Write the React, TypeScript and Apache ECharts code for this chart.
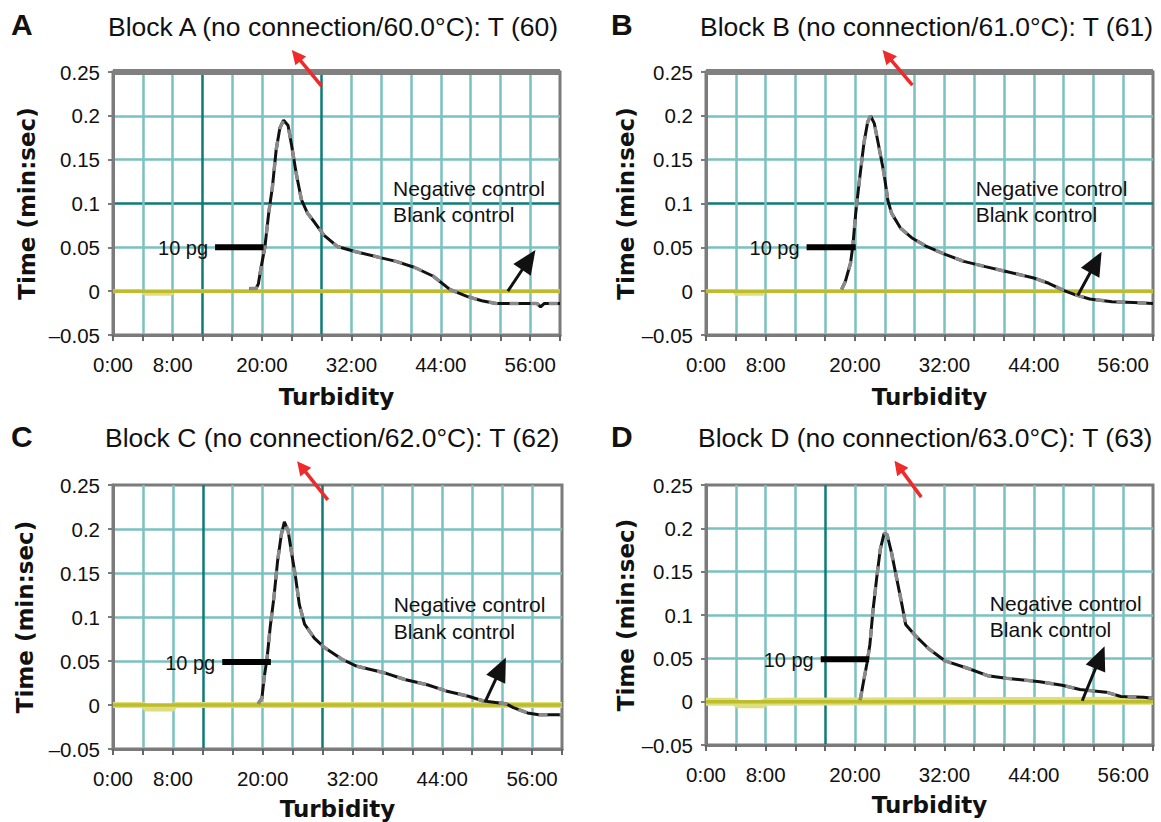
import React, { useEffect, useRef } from "react";
import * as echarts from "echarts";

// ---------- data ----------
const PANEL_LETTERS = ["A", "B", "C", "D"];
const TITLES = [
  "Block A (no connection/60.0\u00b0C): T (60)",
  "Block B (no connection/61.0\u00b0C): T (61)",
  "Block C (no connection/62.0\u00b0C): T (62)",
  "Block D (no connection/63.0\u00b0C): T (63)",
];
const X_AXIS_NAME = "Turbidity";
const Y_AXIS_NAME = "Time (min:sec)";
const X_TICK_VALUES = [0, 8, 20, 32, 44, 56];
const X_TICK_LABELS = ["0:00", "8:00", "20:00", "32:00", "44:00", "56:00"];
const Y_TICK_VALUES = [-0.05, 0, 0.05, 0.1, 0.15, 0.2, 0.25];
const Y_TICK_LABELS = ["\u20130.05", "0", "0.05", "0.1", "0.15", "0.2", "0.25"];

// 10 pg sample curves: [minutes, value]
const CURVE_A: [number, number][] = [
  [18.3, 0.003], [19.2, 0.003], [19.5, 0.008], [19.9, 0.028], [20.4, 0.051], [20.9, 0.089],
  [21.4, 0.119], [21.9, 0.161], [22.4, 0.186], [22.9, 0.195], [23.5, 0.189], [24.0, 0.165],
  [24.6, 0.134], [25.3, 0.104], [26.1, 0.089], [27.1, 0.078], [28.3, 0.064], [30.1, 0.051],
  [32.6, 0.045], [36.0, 0.038], [38.0, 0.034], [40.5, 0.027], [43.0, 0.017], [45.2, 0.002],
  [47.5, -0.006], [49.5, -0.011], [51.4, -0.014], [56.9, -0.014], [57.4, -0.018],
  [57.9, -0.014], [60, -0.014],
];
const CURVE_B: [number, number][] = [
  [18.2, 0.002], [18.7, 0.011], [19.4, 0.032], [19.7, 0.051], [20.1, 0.089], [20.6, 0.127],
  [21.2, 0.169], [21.7, 0.193], [22.1, 0.2], [22.6, 0.191], [23.2, 0.165], [23.9, 0.134],
  [24.4, 0.104], [24.9, 0.089], [26.1, 0.072], [27.6, 0.061], [29.6, 0.051], [32.1, 0.042],
  [34.6, 0.034], [37.5, 0.028], [40.0, 0.023], [44.0, 0.015], [46.0, 0.009], [48.0, 0.001],
  [49.5, -0.004], [51.5, -0.009], [54.5, -0.012], [57.4, -0.013], [60, -0.014],
];
const CURVE_C: [number, number][] = [
  [19.4, 0.0015], [19.9, 0.008], [20.2, 0.031], [20.6, 0.054], [21.0, 0.088], [21.5, 0.122],
  [22.0, 0.164], [22.5, 0.194], [22.9, 0.208], [23.4, 0.198], [23.9, 0.171], [24.4, 0.145],
  [24.9, 0.114], [25.6, 0.092], [26.9, 0.076], [28.3, 0.065], [30.6, 0.052], [32.6, 0.044],
  [36.1, 0.037], [39.0, 0.029], [42.0, 0.023], [44.5, 0.016], [47.5, 0.01], [49.5, 0.0045],
  [52.5, 0.0015], [53.5, -0.003], [55.4, -0.009], [56.9, -0.011], [60, -0.011],
];
const CURVE_D: [number, number][] = [
  [20.7, 0.002], [21.1, 0.021], [21.6, 0.044], [22.0, 0.066], [22.4, 0.104], [22.9, 0.142],
  [23.4, 0.176], [23.9, 0.194], [24.3, 0.193], [24.9, 0.172], [25.6, 0.142], [26.3, 0.112],
  [26.8, 0.089], [27.9, 0.078], [29.9, 0.061], [32.1, 0.047], [35.3, 0.038], [37.8, 0.03],
  [40.3, 0.027], [44.8, 0.023], [47.8, 0.019], [50.2, 0.014], [53.7, 0.011], [55.7, 0.006],
  [58.7, 0.005], [60, 0.004],
];
const CURVES = [CURVE_A, CURVE_B, CURVE_C, CURVE_D];

// Negative control (light) and blank control (olive) traces
const NEG_A: [number, number][] = [[0, 0], [4, 0], [4.3, -0.003], [7.8, -0.003], [8, 0], [60, 0]];
const NEG_B: [number, number][] = [[0, 0], [3.8, 0], [4, -0.003], [7.6, -0.003], [7.8, 0], [60, 0]];
const NEG_C: [number, number][] = [[0, 0], [4.2, 0], [4.4, -0.004], [8, -0.004], [8.2, 0], [60, 0]];
const NEG_D: [number, number][] = [[0, 0], [4, 0], [4.2, -0.003], [7.7, -0.003], [7.9, 0], [60, 0.001]];
const NEGS = [NEG_A, NEG_B, NEG_C, NEG_D];
const BLANK_A: [number, number][] = [[0, 0], [60, 0]];
const BLANK_B: [number, number][] = [[0, 0], [60, 0]];
const BLANK_C: [number, number][] = [[0, 0], [60, 0]];
const BLANK_D: [number, number][] = [[0, 0], [60, 0]];
const BLANKS = [BLANK_A, BLANK_B, BLANK_C, BLANK_D];

// annotations (data coordinates)
const PG_TEXT = "10 pg";
const PG_LINES: [number, number][][] = [
  [[13.7, 0.05], [20.2, 0.05]],
  [[13.5, 0.05], [20.1, 0.05]],
  [[14.6, 0.049], [21.1, 0.049]],
  [[15.4, 0.049], [21.9, 0.049]],
];
const NEG_TEXT = "Negative control";
const BLANK_TEXT = "Blank control";
const CONTROL_TEXT_POS: [number, number][] = [[37.6, 0.117], [36.2, 0.117], [37.5, 0.114], [38.1, 0.113]];
const BLACK_ARROWS: [number, number][][] = [
  [[53.0, 0], [56.7, 0.047]],
  [[49.9, -0.005], [53.1, 0.045]],
  [[49.7, 0.003], [52.5, 0.054]],
  [[50.5, 0.001], [53.5, 0.064]],
];
const RED_ARROWS: [number, number][][] = [
  [[28.0, 0.234], [24.0, 0.275]],
  [[27.7, 0.235], [23.7, 0.275]],
  [[28.7, 0.233], [24.6, 0.277]],
  [[28.9, 0.236], [25.3, 0.278]],
];
const DARK_X = [[12, 28], [], [12, 28], [16]];
const DARK_Y = [[0.1], [0.1], [], []];

// ---------- layout / style ----------
const GRIDS = [
  { left: 113, top: 72, width: 447, height: 263 },
  { left: 706, top: 72, width: 447, height: 263 },
  { left: 113, top: 485, width: 449, height: 264 },
  { left: 706, top: 485, width: 447, height: 260 },
];
const TITLE_POS = [
  { left: 108, top: 13 },
  { left: 700, top: 13 },
  { left: 105, top: 424 },
  { left: 698, top: 424 },
];
const LETTER_POS = [
  { left: 11, top: 9 },
  { left: 611, top: 9 },
  { left: 11, top: 421 },
  { left: 611, top: 421 },
];
const Y_NAME_GAP = [75, 69, 77, 67];
const X_NAME_GAP = [50, 50, 48, 48];
const THICK_TOP = [true, true, false, false];
const NEG_WIDTH = [4, 4, 6, 8];

const GRAY = "#7b7b7b";
const TEAL = "#79c2c0";
const DARK_TEAL = "#0e7b79";
const SANS = "Liberation Sans, Arial, sans-serif";

function buildOption() {
  const grid: any[] = [];
  const xAxis: any[] = [];
  const yAxis: any[] = [];
  const series: any[] = [];
  const title: any[] = [];
  for (let i = 0; i < 4; i++) {
    grid.push({ ...GRIDS[i], show: true, borderColor: GRAY, borderWidth: 3, containLabel: false });
    // the min line is not drawn, so colours start at the second tick
    const xColors: string[] = [];
    for (let v = 4; v < 60; v += 4) xColors.push(DARK_X[i].includes(v) ? DARK_TEAL : TEAL);
    const yColors: string[] = [];
    for (let k = 1; k < Y_TICK_VALUES.length - 1; k++) {
      const v = Y_TICK_VALUES[k];
      yColors.push(DARK_Y[i].some((d) => Math.abs(d - v) < 1e-9) ? DARK_TEAL : TEAL);
    }
    xAxis.push({
      gridIndex: i,
      type: "value",
      min: 0,
      max: 60,
      interval: 4,
      name: X_AXIS_NAME,
      nameLocation: "middle",
      nameGap: X_NAME_GAP[i],
      nameTextStyle: { fontFamily: "DejaVu Sans", fontWeight: "bold", fontSize: 23, color: "#111" },
      axisLine: { show: true, onZero: false, lineStyle: { color: GRAY, width: 3 } },
      axisTick: { show: true, length: 6, lineStyle: { color: "#666", width: 2 } },
      axisLabel: {
        margin: 19,
        fontSize: 20.5,
        fontFamily: SANS,
        color: "#111",
        formatter: (v: number) => {
          const idx = X_TICK_VALUES.findIndex((t) => Math.abs(t - v) < 1e-6);
          return idx >= 0 ? X_TICK_LABELS[idx] : "";
        },
      },
      splitLine: { show: true, showMinLine: false, showMaxLine: false, lineStyle: { color: xColors, width: 2.5 } },
    });
    yAxis.push({
      gridIndex: i,
      type: "value",
      min: -0.05,
      max: 0.25,
      interval: 0.05,
      name: Y_AXIS_NAME,
      nameLocation: "middle",
      nameRotate: 90,
      nameGap: Y_NAME_GAP[i],
      nameTextStyle: { fontFamily: "DejaVu Sans", fontWeight: "bold", fontSize: 23, color: "#111" },
      axisLine: { show: true, lineStyle: { color: GRAY, width: 3 } },
      axisTick: { show: true, length: 5, lineStyle: { color: GRAY, width: 2 } },
      axisLabel: {
        margin: 13,
        fontSize: 20.5,
        fontFamily: SANS,
        color: "#111",
        formatter: (v: number) => {
          const idx = Y_TICK_VALUES.findIndex((t) => Math.abs(t - v) < 1e-6);
          return idx >= 0 ? Y_TICK_LABELS[idx] : "";
        },
      },
      splitLine: { show: true, showMinLine: false, showMaxLine: false, lineStyle: { color: yColors, width: 2.5 } },
    });
    series.push({
      name: NEG_TEXT,
      type: "line",
      xAxisIndex: i,
      yAxisIndex: i,
      data: NEGS[i],
      showSymbol: false,
      symbol: "none",
      lineStyle: { color: "#dede7c", width: NEG_WIDTH[i] },
      z: 2,
      markLine: THICK_TOP[i]
        ? {
            silent: true,
            symbol: ["none", "none"],
            label: { show: false },
            lineStyle: { color: "#808080", width: 6, type: "solid" },
            data: [{ yAxis: 0.25 }],
          }
        : undefined,
    });
    series.push({
      name: BLANK_TEXT,
      type: "line",
      xAxisIndex: i,
      yAxisIndex: i,
      data: BLANKS[i],
      showSymbol: false,
      symbol: "none",
      lineStyle: { color: "#bcbc2c", width: 3.5 },
      z: 3,
    });
    series.push({
      name: PG_TEXT,
      type: "line",
      xAxisIndex: i,
      yAxisIndex: i,
      data: CURVES[i],
      showSymbol: false,
      symbol: "none",
      lineStyle: { color: "#111", width: 3 },
      z: 4,
    });
    series.push({
      name: PG_TEXT + " overlay",
      type: "line",
      xAxisIndex: i,
      yAxisIndex: i,
      data: CURVES[i],
      showSymbol: false,
      symbol: "none",
      lineStyle: { color: "#8a8a8a", width: 3.5, type: [9, 12] },
      z: 5,
    });
    title.push({
      text: TITLES[i],
      left: TITLE_POS[i].left,
      top: TITLE_POS[i].top,
      padding: 0,
      textStyle: { fontFamily: SANS, fontWeight: "normal", fontSize: 26.5, color: "#111" },
    });
    title.push({
      text: PANEL_LETTERS[i],
      left: LETTER_POS[i].left,
      top: LETTER_POS[i].top,
      padding: 0,
      textStyle: { fontFamily: SANS, fontWeight: "bold", fontSize: 30, color: "#111" },
    });
  }
  return {
    animation: false,
    backgroundColor: "#ffffff",
    title,
    grid,
    xAxis,
    yAxis,
    series,
  };
}

function arrow(
  tail: number[],
  tip: number[],
  color: string,
  lineWidth: number,
  headLen: number,
  headWidth: number
): any[] {
  const dx = tip[0] - tail[0];
  const dy = tip[1] - tail[1];
  const len = Math.sqrt(dx * dx + dy * dy) || 1;
  const ux = dx / len;
  const uy = dy / len;
  const bx = tip[0] - ux * headLen;
  const by = tip[1] - uy * headLen;
  const nx = -uy * (headWidth / 2);
  const ny = ux * (headWidth / 2);
  return [
    {
      type: "line",
      shape: { x1: tail[0], y1: tail[1], x2: bx + ux * 2, y2: by + uy * 2 },
      style: { stroke: color, lineWidth },
      z: 100,
    },
    {
      type: "polygon",
      shape: { points: [[tip[0], tip[1]], [bx + nx, by + ny], [bx - nx, by - ny]] },
      style: { fill: color },
      z: 100,
    },
  ];
}

function buildGraphics(chart: echarts.ECharts) {
  const g: any[] = [];
  for (let i = 0; i < 4; i++) {
    const px = (p: number[]) => chart.convertToPixel({ gridIndex: i }, p) as number[];
    // red arrow
    g.push(...arrow(px(RED_ARROWS[i][0]), px(RED_ARROWS[i][1]), "#ee2a2a", 3.5, 14, 14));
    // black arrow
    g.push(...arrow(px(BLACK_ARROWS[i][0]), px(BLACK_ARROWS[i][1]), "#111", 3, 24, 21));
    // 10 pg pointer
    const a = px(PG_LINES[i][0]);
    const b = px(PG_LINES[i][1]);
    g.push({
      type: "line",
      shape: { x1: a[0], y1: a[1], x2: b[0], y2: b[1] },
      style: { stroke: "#000", lineWidth: 6 },
      z: 100,
    });
    g.push({
      type: "text",
      x: a[0] - 7,
      y: a[1] + 1,
      style: { text: PG_TEXT, font: "20px " + SANS, fill: "#111", align: "right", verticalAlign: "middle" },
      z: 100,
    });
    const c = px(CONTROL_TEXT_POS[i]);
    const c2 = px([CONTROL_TEXT_POS[i][0], CONTROL_TEXT_POS[i][1] - 0.03]);
    g.push({
      type: "text",
      x: c[0],
      y: c[1],
      style: { text: NEG_TEXT, font: "21px " + SANS, fill: "#111", align: "left", verticalAlign: "middle" },
      z: 100,
    });
    g.push({
      type: "text",
      x: c2[0],
      y: c2[1],
      style: { text: BLANK_TEXT, font: "21px " + SANS, fill: "#111", align: "left", verticalAlign: "middle" },
      z: 100,
    });
  }
  return g;
}

export default function App() {
  const ref = useRef<HTMLDivElement>(null);
  useEffect(() => {
    if (!ref.current) return;
    const chart = echarts.init(ref.current, null, { renderer: "svg" });
    chart.setOption(buildOption());
    chart.setOption({ graphic: buildGraphics(chart) });
    return () => {
      chart.dispose();
    };
  }, []);
  return (
    <div
      ref={ref}
      style={{ position: "absolute", left: 0, top: 0, width: 1161, height: 822, background: "#fff" }}
    />
  );
}
